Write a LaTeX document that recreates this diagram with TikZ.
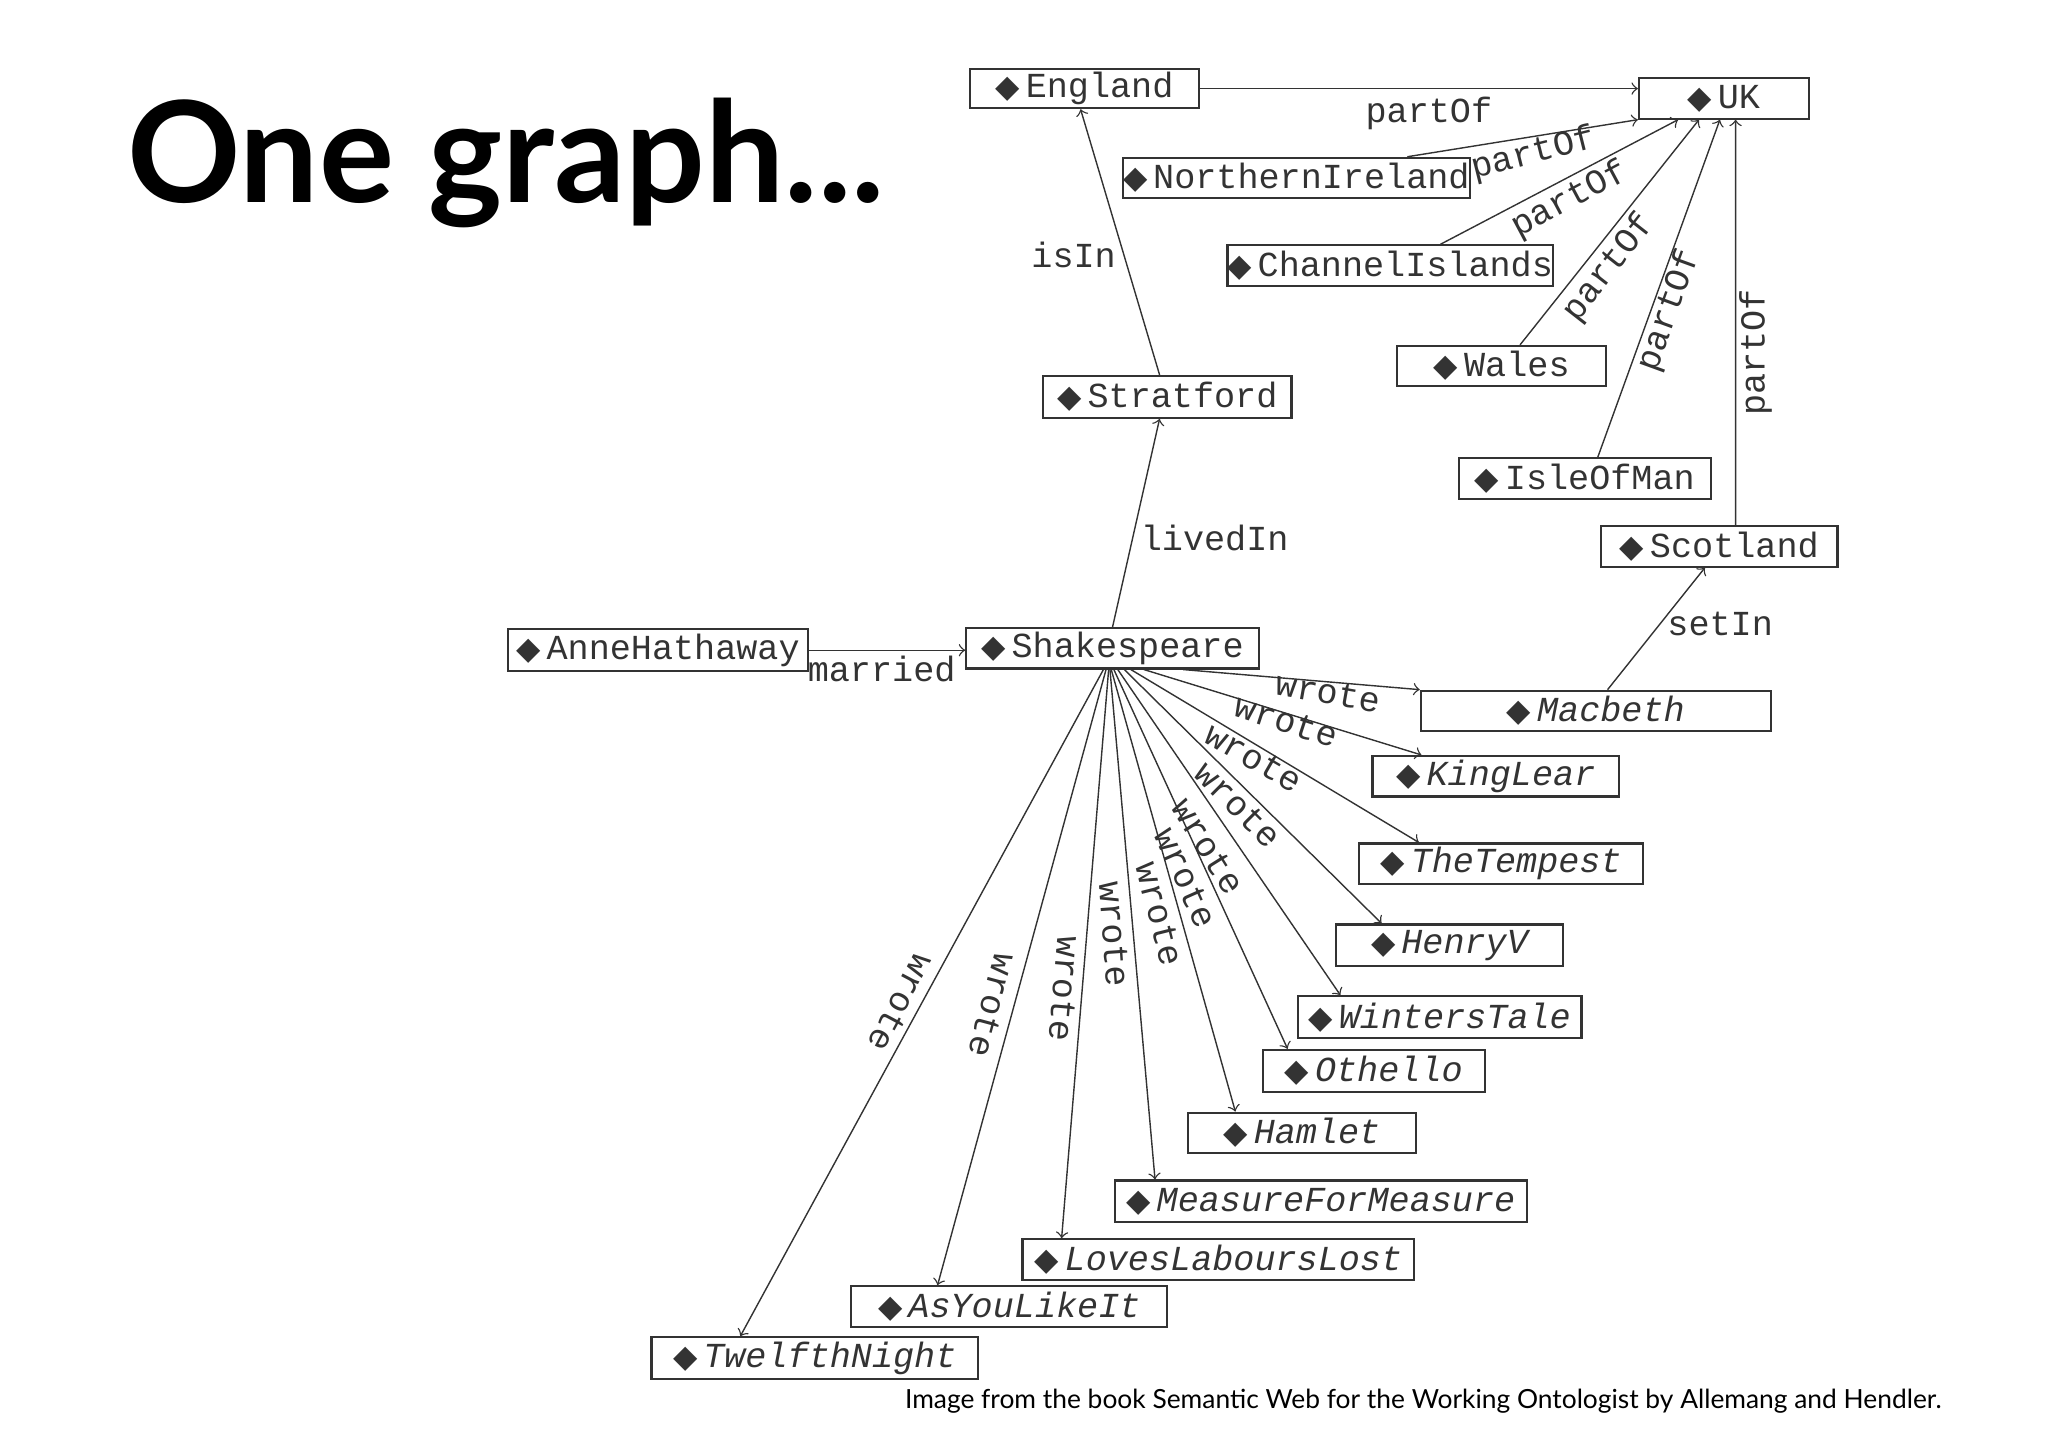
\documentclass[tikz,border=0pt]{standalone}
\usepackage{fontspec}
\setmonofont{Liberation Mono}
\newfontfamily\djvfont{DejaVu Sans}
\newfontfamily\tfont{Lato}
\def\u{0.0130612cm}
\definecolor{ink}{HTML}{333333}
\tikzset{
 gbox/.style={draw=ink,semithick,inner sep=0pt,text=ink,font=\ttfamily\fontsize{10}{12}\selectfont,anchor=north west},
 lab/.style={text=ink,font=\ttfamily\fontsize{10}{12}\selectfont,inner sep=1pt},
 arr/.style={->,>=to,thin,draw=ink},
}
\newcommand\gbox[6]{\node[gbox,minimum width={(#4-#2)*\u},minimum height={(#5-#3)*\u}] (#1) at (#2,#3) {{\djvfont\fontsize{9}{10}\selectfont\char"25C6}\,#6};}
\begin{document}
\begin{tikzpicture}[x=0.0130612cm,y=-0.0130612cm]
\useasboundingbox (0,0) rectangle (1568,1108);
\node[anchor=base west,font=\tfont\bfseries\fontsize{40}{44}\selectfont,inner sep=0] (title) at (97,155) {One graph...};
\gbox{England}{742}{52}{917}{82}{England}
\gbox{UK}{1254}{59}{1384}{90}{UK}
\gbox{NI}{859}{120}{1121}{151}{NorthernIreland}
\gbox{CI}{939}{187}{1184}{218}{ChannelIslands}
\gbox{Wales}{1069}{264}{1229}{295}{Wales}
\gbox{Stratford}{798}{287}{988}{319}{Stratford}
\gbox{IOM}{1116}{350}{1309}{381}{IsleOfMan}
\gbox{Scotland}{1225}{402}{1406}{433}{Scotland}
\gbox{Anne}{388}{481}{618}{513}{AnneHathaway}
\gbox{Sh}{739}{480}{963}{511}{Shakespeare}
\gbox{Macbeth}{1087}{528}{1355}{559}{\itshape Macbeth}
\gbox{KingLear}{1050}{578}{1239}{609}{\itshape KingLear}
\gbox{Tempest}{1040}{645}{1257}{676}{\itshape TheTempest}
\gbox{HenryV}{1022}{707}{1196}{739}{\itshape HenryV}
\gbox{Winters}{993}{762}{1210}{794}{\itshape WintersTale}
\gbox{Othello}{966}{803}{1136}{835}{\itshape Othello}
\gbox{Hamlet}{909}{851}{1083}{882}{\itshape Hamlet}
\gbox{MFM}{853}{903}{1168}{935}{\itshape MeasureForMeasure}
\gbox{LLL}{782}{948}{1082}{979}{\itshape LovesLaboursLost}
\gbox{AYLI}{651}{984}{893}{1015}{\itshape AsYouLikeIt}
\gbox{TN}{498}{1023}{748}{1055}{\itshape TwelfthNight}
% edges
\draw[arr] (England.east) -- (England.east -| UK.west);
\draw[arr] ([xshift=85*\u]NI.north) -- (UK.south west);
\draw[arr] ([xshift=38.5*\u]CI.north) -- ([xshift=-35*\u]UK.south);
\draw[arr] ([xshift=14*\u]Wales.north) -- ([xshift=-19*\u]UK.south);
\draw[arr] ([xshift=10*\u]IOM.north) -- ([xshift=-3*\u]UK.south);
\draw[arr] ([xshift=12.5*\u]Scotland.north) -- ([xshift=9*\u]UK.south);
\draw[arr] ([xshift=-6*\u]Stratford.north) -- ([xshift=-3*\u]England.south);
\draw[arr] (Sh.north) -- ([xshift=-6*\u]Stratford.south);
\draw[arr] (Anne.east) -- (Anne.east -| Sh.west);
\draw[arr] ([xshift=9*\u]Macbeth.north) -- ([xshift=-11*\u]Scotland.south);
\draw[arr] ([xshift=54*\u]Sh.south) -- (Macbeth.north west);
\draw[arr] ([xshift=24*\u]Sh.south) -- ([xshift=-57*\u]KingLear.north);
\draw[arr] ([xshift=14*\u]Sh.south) -- ([xshift=-63*\u]Tempest.north);
\draw[arr] ([xshift=9*\u]Sh.south) -- ([xshift=-52*\u]HenryV.north);
\draw[arr] ([xshift=4*\u]Sh.south) -- ([xshift=-76*\u]Winters.north);
\draw[arr] ([xshift=1*\u]Sh.south) -- ([xshift=-66*\u]Othello.north);
\draw[arr] ([xshift=-1*\u]Sh.south) -- ([xshift=-51*\u]Hamlet.north);
\draw[arr] ([xshift=-2*\u]Sh.south) -- ([xshift=-127*\u]MFM.north);
\draw[arr] ([xshift=-3*\u]Sh.south) -- ([xshift=-120*\u]LLL.north);
\draw[arr] ([xshift=-5*\u]Sh.south) -- ([xshift=-55*\u]AYLI.north);
\draw[arr] ([xshift=-7*\u]Sh.south) -- ([xshift=-57*\u]TN.north);
% labels
\node[lab] (l1) at (1094,87) {partOf};
\node[lab,rotate=14] (l2) at (1174,118) {partOf};
\node[lab,rotate=28] (l3) at (1202,153) {partOf};
\node[lab,rotate=52] (l4) at (1232,205) {partOf};
\node[lab,rotate=70] (l5) at (1278,238) {partOf};
\node[lab,rotate=90] (l6) at (1344,270) {partOf};
\node[lab] (l7) at (822,195) {isIn};
\node[lab] (l8) at (930,412) {livedIn};
\node[lab] (l9) at (1317,478) {setIn};
\node[lab] (l10) at (675,512) {married};
\node[lab,rotate=-10] at (1017,530) {wrote};
\node[lab,rotate=-18] at (985,552) {wrote};
\node[lab,rotate=-30] at (960,580) {wrote};
\node[lab,rotate=-45] at (948,616) {wrote};
\node[lab,rotate=-58] at (925,648) {wrote};
\node[lab,rotate=-66] at (908,672) {wrote};
\node[lab,rotate=-76] at (888,700) {wrote};
\node[lab,rotate=-86] at (853,715) {wrote};
\node[lab,rotate=-95] at (815,757) {wrote};
\node[lab,rotate=-105] at (760,770) {wrote};
\node[lab,rotate=-118] at (690,768) {wrote};
\node[anchor=base east,font=\tfont\fontsize{7.5}{9}\selectfont,inner sep=0] (cap) at (1487,1078) {Image from the book Semantic Web for the Working Ontologist by Allemang and Hendler.};
\end{tikzpicture}
\end{document}
